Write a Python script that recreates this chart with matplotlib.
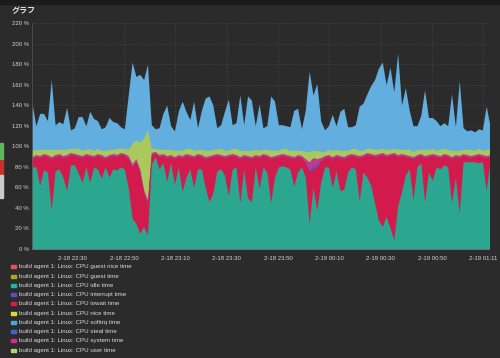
import numpy as np
import pandas as pd
import matplotlib
matplotlib.use("Agg")
from matplotlib import pyplot as plt
from matplotlib.patches import Rectangle

plt.rcParams['font.family'] = ['Liberation Sans', 'Noto Sans CJK JP', 'DejaVu Sans']

# sample times, every 90 s
times = pd.date_range("2024-02-18 22:14:06", periods=120, freq="90s")

idle = [80, 80, 62, 77, 75, 38, 76, 78, 70, 57,
        82, 82, 74, 65, 80, 65, 80, 78, 69, 80,
        70, 78, 77, 80, 78, 60, 30, 25, 15, 22,
        14, 82, 90, 78, 84, 66, 84, 63, 80, 56,
        70, 78, 60, 78, 78, 60, 46, 55, 76, 78,
        72, 52, 78, 80, 45, 78, 50, 46, 80, 59,
        80, 75, 45, 70, 80, 81, 80, 78, 61, 75,
        80, 70, 25, 60, 38, 65, 80, 80, 60, 76,
        57, 58, 75, 80, 78, 47, 75, 70, 62, 45,
        28, 22, 32, 21, 9, 42, 56, 72, 78, 48,
        80, 84, 46, 75, 67, 80, 78, 82, 80, 45,
        70, 35, 85, 85, 85, 85, 84, 85, 57, 85]

iowait = [8, 10, 27, 14, 15, 50, 14, 13, 19, 33,
          10, 9, 16, 24, 11, 25, 9, 13, 21, 8,
          20, 13, 13, 12, 13, 28, 50, 60, 60, 33,
          31, 10, 3, 12, 7, 23, 6, 25, 10, 33,
          21, 12, 29, 13, 12, 28, 43, 35, 15, 12,
          17, 38, 13, 10, 43, 12, 39, 42, 10, 30,
          11, 15, 43, 19, 10, 10, 10, 11, 27, 15,
          9, 14, 51, 18, 42, 21, 9, 10, 28, 14,
          32, 30, 15, 11, 12, 42, 15, 22, 29, 45,
          63, 70, 58, 70, 83, 48, 35, 18, 11, 40,
          10, 7, 43, 15, 24, 10, 11, 9, 10, 43,
          20, 54, 6, 5, 4, 5, 7, 5, 32, 5]

interrupt = [0] * 72 + [2, 3, 2] + [0] * 45

system = [2] * 25 + [3] * 6 + [2] * 40 + [4, 7, 8, 6, 3] + [2] * 44

user = [6, 5, 6, 4, 5, 7, 5, 4, 6, 5,
        4, 5, 6, 5, 4, 6, 5, 5, 4, 6,
        5, 4, 6, 4, 5, 6, 20, 18, 26, 50,
        68, 4, 3, 5, 4, 6, 5, 6, 4, 5,
        5, 6, 5, 4, 5, 6, 5, 5, 4, 6,
        5, 4, 5, 6, 6, 4, 5, 6, 5, 5,
        4, 5, 6, 5, 4, 5, 6, 5, 6, 4,
        5, 7, 10, 7, 8, 6, 4, 5, 6, 5,
        5, 6, 4, 5, 6, 5, 4, 4, 5, 5,
        4, 4, 5, 4, 4, 5, 4, 5, 6, 5,
        5, 4, 6, 5, 5, 4, 6, 5, 5, 6,
        4, 5, 4, 5, 6, 4, 5, 4, 6, 5]

softirq = [46, 23, 35, 35, 28, 68, 24, 27, 25, 41,
           18, 20, 31, 33, 23, 36, 31, 27, 21, 23,
           31, 27, 25, 21, 19, 53, 79, 62, 66, 57,
           64, 23, 19, 21, 35, 43, 23, 19, 38, 48,
           36, 28, 48, 21, 38, 51, 53, 43, 21, 23,
           38, 50, 23, 25, 54, 25, 53, 49, 23, 45,
           21, 23, 53, 48, 25, 23, 22, 23, 39, 41,
           21, 40, 78, 54, 65, 30, 21, 23, 35, 23,
           38, 41, 23, 21, 23, 43, 46, 53, 61, 68,
           79, 84, 63, 80, 55, 94, 43, 60, 38, 25,
           23, 33, 58, 31, 30, 29, 23, 25, 23, 55,
           23, 68, 21, 18, 19, 18, 19, 20, 42, 23]

# stacked bottom -> top
stack_series = [idle, iowait, interrupt, system, user, softirq]
stack_colors = ['#2aa78e', '#d21a4c', '#5a55c0', '#c23a8e', '#a9c95c', '#62afdf']

legend_labels = [
    "build agent 1: Linux: CPU guest nice time",
    "build agent 1: Linux: CPU guest time",
    "build agent 1: Linux: CPU idle time",
    "build agent 1: Linux: CPU interrupt time",
    "build agent 1: Linux: CPU iowait time",
    "build agent 1: Linux: CPU nice time",
    "build agent 1: Linux: CPU softirq time",
    "build agent 1: Linux: CPU steal time",
    "build agent 1: Linux: CPU system time",
    "build agent 1: Linux: CPU user time",
]
legend_colors = ['#e0505e', '#a8a82a', '#22b49e', '#5550c0', '#d0204e',
                 '#d8d838', '#45a8dc', '#4565c8', '#d02a94', '#a8d468']

tick_times = ["2024-02-18 22:30", "2024-02-18 22:50", "2024-02-18 23:10",
              "2024-02-18 23:30", "2024-02-18 23:50", "2024-02-19 00:10",
              "2024-02-19 00:30", "2024-02-19 00:50", "2024-02-19 01:10"]
tick_labels = ["2-18 22:30", "2-18 22:50", "2-18 23:10", "2-18 23:30",
               "2-18 23:50", "2-19 00:10", "2-19 00:30", "2-19 00:50",
               "2-19 01:11"]

bg = '#2b2b2b'
W, H = 500, 358

fig = plt.figure(figsize=(5, 3.58), dpi=100, facecolor=bg)
ax = fig.add_axes([32 / W, 1 - 249 / H, (489 - 32) / W, (249 - 23) / H])
ax.set_facecolor(bg)

# draw cumulative tops, highest first so the layers have no seams
tops = np.cumsum(np.array(stack_series, dtype=float), axis=0)
for k in range(len(stack_series) - 1, -1, -1):
    ax.fill_between(times, 0, tops[k], color=stack_colors[k], linewidth=0)

ax.set_ylim(0, 220)
ax.set_yticks(range(0, 221, 20))
ax.set_yticklabels([f"{v} %" for v in range(0, 221, 20)])
ax.set_xlim(pd.Timestamp("2024-02-18 22:14:06"), pd.Timestamp("2024-02-19 01:12:12"))
ax.set_xticks(pd.to_datetime(tick_times))
ax.set_xticklabels(tick_labels)

ax.grid(True, color='#4c4c4c', linestyle=(0, (1, 2)), linewidth=0.6)
ax.set_axisbelow(True)
for s in ax.spines.values():
    s.set_visible(False)
ax.tick_params(length=0, labelsize=4.3, colors='#d4d4d4')
ax.tick_params(axis='y', pad=2.2)
ax.tick_params(axis='x', pad=5)
ax.axvline(pd.Timestamp("2024-02-18 22:14:06"), color='#555555', linewidth=0.5)

# panel decorations
fig.patches.append(Rectangle((0, 1 - 4 / H), 1, 4 / H, transform=fig.transFigure,
                             color='#1b1b1b'))
for y0, y1, c in [(143, 160, '#5cb85c'), (160, 175, '#c9302c'), (175, 198, '#cccccc')]:
    fig.patches.append(Rectangle((0, 1 - y1 / H), 2.7 / W, (y1 - y0) / H,
                                 transform=fig.transFigure, color=c))

fig.text(12 / W, 1 - 11 / H, "グラフ", va='center', ha='left', fontsize=5.8,
         color='#e2e2e2', weight='bold',
         family=['Noto Sans CJK JP', 'DejaVu Sans'])

# legend
for k, (lab, col) in enumerate(zip(legend_labels, legend_colors)):
    yc = 266.8 + 9.26 * k
    fig.patches.append(Rectangle((10.5 / W, 1 - (yc + 1.5) / H), 5.5 / W, 3 / H,
                                 transform=fig.transFigure, color=col))
    fig.text(19 / W, 1 - yc / H, lab, va='center', ha='left', fontsize=4.45,
             color='#dcdcdc')

fig.savefig("out.png", dpi=100, facecolor=bg)
